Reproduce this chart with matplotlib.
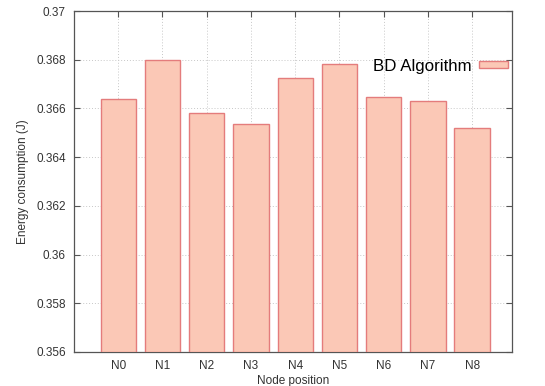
import matplotlib
matplotlib.use("Agg")
import matplotlib.pyplot as plt
from matplotlib.patches import Patch

plt.rcParams['font.family'] = ['Liberation Sans', 'DejaVu Sans']

# node positions and measured energy (J)
nodes = ["N0", "N1", "N2", "N3", "N4", "N5", "N6", "N7", "N8"]
energy = [0.36637, 0.36800, 0.36582, 0.36537, 0.36726, 0.36782, 0.36648, 0.36629, 0.36520]
yticks = [0.356, 0.358, 0.36, 0.362, 0.364, 0.366, 0.368, 0.37]
ytick_labels = ["0.356", "0.358", "0.36", "0.362", "0.364", "0.366", "0.368", "0.37"]

fill = "#fbc8b6"
edge = "#e47c7c"
textc = "#333333"


def plot_bar():
    fig = plt.figure(figsize=(5.45, 3.86), dpi=100)
    ax = fig.add_axes([0.1358, 0.0881, 0.8036, 0.8834])

    xs = list(range(len(nodes)))
    ax.bar(xs, [e - 0.356 for e in energy], 0.8, bottom=0.356,
           color=fill, edgecolor=edge, linewidth=1.0, zorder=3)

    ax.set_xlim(-1, 8.9)
    ax.set_ylim(0.356, 0.37)
    ax.set_xticks(xs)
    ax.set_xticklabels(nodes)
    ax.set_yticks(yticks)
    ax.set_yticklabels(ytick_labels)

    ax.grid(True, color="#c8c8c8", linestyle=(0, (1, 2)), linewidth=0.7, zorder=0)
    ax.tick_params(direction="in", length=4, width=0.8, colors="#555555",
                   labelcolor=textc, labelsize=8.5, top=True, right=True,
                   pad=6)
    for s in ax.spines.values():
        s.set_color("#555555")
        s.set_linewidth(0.9)

    ax.set_xlabel("Node position", fontsize=8.5, color=textc, labelpad=2)
    ax.set_ylabel("Energy consumption (J)", fontsize=8.5, color=textc, labelpad=5)

    # gnuplot style key: text on the left of the sample
    handle = Patch(facecolor=fill, edgecolor=edge, linewidth=1.0)
    leg = ax.legend([handle], ["BD Algorithm"], loc="upper right",
                    bbox_to_anchor=(0.992, 0.86), frameon=False,
                    markerfirst=False, fontsize=12.2, handlelength=1.75,
                    handleheight=0.3, handletextpad=0.45, borderaxespad=0.0,
                    borderpad=0.0)
    leg.set_zorder(5)

    fig.savefig("out.png", dpi=100)


if __name__ == "__main__":
    plot_bar()
